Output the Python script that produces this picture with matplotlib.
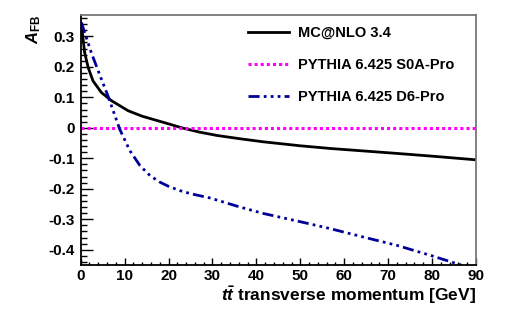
import numpy as np
import matplotlib
matplotlib.use("Agg")
import matplotlib.pyplot as plt
from matplotlib.ticker import MultipleLocator

plt.rcParams['font.family'] = ['Liberation Sans', 'DejaVu Sans']
plt.rcParams['font.weight'] = 'bold'
plt.rcParams['mathtext.fontset'] = 'custom'
plt.rcParams['mathtext.rm'] = 'Liberation Sans:bold'
plt.rcParams['mathtext.it'] = 'Liberation Sans:bold:italic'
plt.rcParams['mathtext.bf'] = 'Liberation Sans:bold'

# MC@NLO 3.4
mc_x = [0.3, 0.9, 1.7, 2.8, 4.7, 7.0, 10.8, 14.0, 17.6, 20.0, 23.0, 27.0, 31.0,
        36.3, 41.6, 50.0, 57.0, 64.5, 72.0, 80.0, 90.0]
mc_y = [0.323, 0.247, 0.198, 0.154, 0.116, 0.089, 0.056, 0.038, 0.023, 0.013, 0.0,
        -0.014, -0.025, -0.036, -0.046, -0.059, -0.068, -0.076, -0.084, -0.093, -0.105]

# PYTHIA 6.425 S0A-Pro
s0a_x = [0.0, 90.0]
s0a_y = [0.0, 0.0]

# PYTHIA 6.425 D6-Pro
d6_x = [0.15, 2.4, 4.7, 6.2, 8.9, 11.2, 13.5, 15.8, 18.0, 20.0, 22.6, 25.0, 29.4,
        36.3, 41.6, 50.0, 56.9, 64.0, 72.1, 80.0, 87.0]
d6_y = [0.346, 0.247, 0.16, 0.105, -0.005, -0.075, -0.124, -0.157, -0.178, -0.192,
        -0.206, -0.216, -0.23, -0.26, -0.281, -0.308, -0.331, -0.357, -0.386, -0.42, -0.452]

fig = plt.figure(figsize=(5.28, 3.15), dpi=100)
ax = fig.add_axes([0.1528, 0.1587, 0.7487, 0.7937])

ax.plot(mc_x, mc_y, color='black', lw=2.0, label='MC@NLO 3.4')
ax.plot(s0a_x, s0a_y, color='#ff00ff', lw=2.2, linestyle=(0, (1.0, 1.0)),
        label='PYTHIA 6.425 S0A-Pro')
ax.plot(d6_x, d6_y, color='#000099', lw=2.0,
        linestyle=(0, (4, 1.5, 1, 1.5, 1, 1.5, 1, 1.5)), label='PYTHIA 6.425 D6-Pro')

ax.set_xlim(0, 90)
ax.set_ylim(-0.45, 0.37)
ax.xaxis.set_major_locator(MultipleLocator(10))
ax.xaxis.set_minor_locator(MultipleLocator(2))
ax.yaxis.set_minor_locator(MultipleLocator(0.02))
ax.set_yticks([-0.4, -0.3, -0.2, -0.1, 0, 0.1, 0.2, 0.3])
ax.set_yticklabels(['-0.4', '-0.3', '-0.2', '-0.1', '0', '0.1', '0.2', '0.3'])

ax.tick_params(axis='both', which='both', direction='in', top=False, right=False,
               labelsize=11, width=1.0)
ax.tick_params(axis='y', which='major', length=8.6, pad=4)
ax.tick_params(axis='y', which='minor', length=4.3)
ax.tick_params(axis='x', which='major', length=4.8, pad=3)
ax.tick_params(axis='x', which='minor', length=2.4)
for lab in ax.get_xticklabels() + ax.get_yticklabels():
    lab.set_fontweight('bold')

for s in ['left', 'bottom']:
    ax.spines[s].set_linewidth(1.3)
    ax.spines[s].set_color('black')
for s in ['top', 'right']:
    ax.spines[s].set_linewidth(1.3)
    ax.spines[s].set_color('#777777')

ax.set_xlabel(r'$t\bar{t}$ transverse momentum [GeV]', fontsize=12.5, fontweight='bold',
              loc='right', labelpad=1)
ax.set_ylabel(r'$A_{\mathrm{FB}}$', fontsize=12, loc='top')
ax.yaxis.set_label_coords(-0.095, 1.0)

leg = ax.legend(loc='upper left', bbox_to_anchor=(248 / 528, 1 - 26 / 315),
                bbox_transform=fig.transFigure, frameon=False, fontsize=10.5,
                borderpad=0, borderaxespad=0, handlelength=2.8, handletextpad=0.6,
                labelspacing=1.25)
for t in leg.get_texts():
    t.set_fontweight('bold')

fig.savefig('out.png', dpi=100)
